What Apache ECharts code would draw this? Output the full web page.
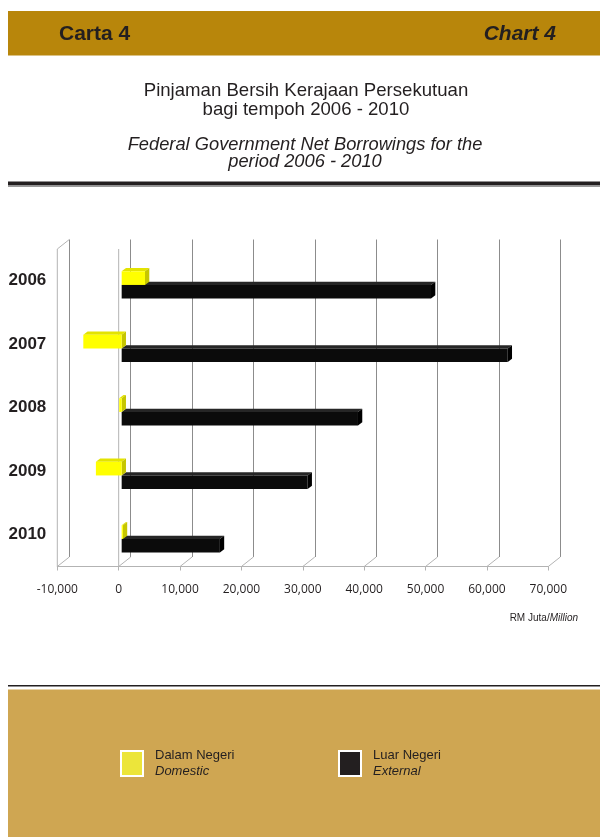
<!DOCTYPE html>
<html><head><meta charset="utf-8">
<script src="https://cdn.jsdelivr.net/npm/echarts@6/dist/echarts.min.js"></script>
<style>html,body{margin:0;padding:0;background:#fff}#c{width:600px;height:837px}</style>
</head><body><div id="c"></div>
<script>
// ---- data ----
const years = ['2006', '2007', '2008', '2009', '2010'];
const domestic = [3800, -6250, -400, -4200, 200];      // Dalam Negeri / Domestic
const external = [50400, 62900, 38500, 30300, 16000];  // Luar Negeri / External
const tickValues = [-10000, 0, 10000, 20000, 30000, 40000, 50000, 60000, 70000];
const seriesNames = ['Dalam Negeri', 'Luar Negeri'];
const seriesNamesEn = ['Domestic', 'External'];

const FONT = '"Liberation Sans", Arial, Helvetica, sans-serif';
const TXT = '#231f20';
const chart = echarts.init(document.getElementById('c'));

const DX = 12, DY = -9.5;   // back wall offset
const BX = 3;               // bar plane offset
const SX = 4.3, SY = -3.3;  // bar depth

function barRenderer(front, top, side, upper) {
  return function (params, api) {
    const cat = api.value(1);
    const v = api.value(0);
    const p0 = api.coord([0, cat]);
    const p1 = api.coord([v, cat]);
    const band = api.size([0, 1])[1];
    const b = p0[1] + band * 0.066;
    const h = band * 0.215;
    const y0 = upper ? b - h : b;
    const y1 = y0 + h;
    const xl = Math.min(p0[0], p1[0]) + BX;
    const xr = Math.max(p0[0], p1[0]) + BX;
    return {
      type: 'group', children: [
        { type: 'polygon', shape: { points: [[xl, y0], [xl + SX, y0 + SY], [xr + SX, y0 + SY], [xr, y0]] }, style: { fill: top } },
        { type: 'polygon', shape: { points: [[xr, y0], [xr + SX, y0 + SY], [xr + SX, y1 + SY], [xr, y1]] }, style: { fill: side } },
        { type: 'rect', shape: { x: xl, y: y0, width: xr - xl, height: h }, style: { fill: front } }
      ]
    };
  };
}

const option = {
  animation: false,
  graphic: [
    { type: 'rect', shape: { x: 8, y: 11, width: 592, height: 44.5 }, style: { fill: '#B8860B' }, z: -10 },
    { type: 'text', x: 59, y: 34, style: { text: 'Carta 4', fontSize: 21, fontWeight: 'bold', fontFamily: FONT, fill: TXT, align: 'left', verticalAlign: 'middle' } },
    { type: 'text', x: 556, y: 34, style: { text: 'Chart 4', fontSize: 21, fontWeight: 'bold', fontStyle: 'italic', fontFamily: FONT, fill: TXT, align: 'right', verticalAlign: 'middle' } },
    { type: 'text', x: 306, y: 91, style: { text: 'Pinjaman Bersih Kerajaan Persekutuan', fontSize: 18.6, fontFamily: FONT, fill: TXT, align: 'center', verticalAlign: 'middle' } },
    { type: 'text', x: 306, y: 110, style: { text: 'bagi tempoh 2006 - 2010', fontSize: 18.6, fontFamily: FONT, fill: TXT, align: 'center', verticalAlign: 'middle' } },
    { type: 'text', x: 305, y: 145, style: { text: 'Federal Government Net Borrowings for the', fontSize: 18.3, fontStyle: 'italic', fontFamily: FONT, fill: TXT, align: 'center', verticalAlign: 'middle' } },
    { type: 'text', x: 305, y: 162, style: { text: 'period 2006 - 2010', fontSize: 18.3, fontStyle: 'italic', fontFamily: FONT, fill: TXT, align: 'center', verticalAlign: 'middle' } },
    { type: 'rect', shape: { x: 8, y: 181.5, width: 592, height: 4 }, style: { fill: TXT } },
    { type: 'rect', shape: { x: 8, y: 185.5, width: 592, height: 1.5 }, style: { fill: '#9a9a9a' } },
    { type: 'text', x: 578, y: 618, style: { text: '{a|RM Juta/}{b|Million}', align: 'right', verticalAlign: 'middle',
        rich: { a: { fontSize: 10, fontFamily: FONT, fill: TXT, color: TXT }, b: { fontSize: 10, fontFamily: FONT, fontStyle: 'italic', fill: TXT, color: TXT } } } },
    { type: 'rect', shape: { x: 8, y: 685, width: 592, height: 1.6 }, style: { fill: TXT } },
    { type: 'rect', shape: { x: 8, y: 689.5, width: 592, height: 148 }, style: { fill: '#CFA652' }, z: -10 }
  ],
  legend: [0, 1].map(i => ({
    left: i === 0 ? 115 : 333,
    top: 744,
    orient: 'horizontal',
    selectedMode: false,
    icon: 'rect',
    itemWidth: 22,
    itemHeight: 25,
    data: [{ name: seriesNames[i], itemStyle: { color: i === 0 ? '#ECE53A' : '#231f20', borderColor: '#ffffff', borderWidth: 2 } }],
    formatter: name => '{a|' + name + '}\n{b|' + seriesNamesEn[seriesNames.indexOf(name)] + '}',
    textStyle: {
      padding: [0, 0, 0, 7],
      rich: {
        a: { fontSize: 13, fontFamily: FONT, color: TXT, lineHeight: 16 },
        b: { fontSize: 13, fontFamily: FONT, color: TXT, fontStyle: 'italic', lineHeight: 16 }
      }
    }
  })),
  grid: [
    { left: 57.3, width: 491, top: 249, height: 317.5 },
    { left: 57.3 + DX, width: 491, top: 249 + DY, height: 317.5 }
  ],
  xAxis: [
    {
      gridIndex: 0, type: 'value', min: -10000, max: 70000, interval: 10000,
      axisLine: { show: true, lineStyle: { color: '#b3b3b3', width: 1 } },
      axisTick: { show: true, length: 4, lineStyle: { color: '#b3b3b3' } },
      splitLine: { show: false },
      axisLabel: { margin: 17, fontSize: 12, fontFamily: '"Open Sans", "DejaVu Sans", sans-serif', color: TXT,
        formatter: v => v.toLocaleString('en-US') }
    },
    {
      gridIndex: 1, type: 'value', min: -10000, max: 70000, interval: 10000,
      axisLine: { show: false }, axisTick: { show: false }, axisLabel: { show: false },
      splitLine: { show: true, showMinLine: true, showMaxLine: true, lineStyle: { color: '#8c8c8c', width: 1 } }
    }
  ],
  yAxis: [
    {
      gridIndex: 0, type: 'category', data: years, inverse: true,
      axisLine: { show: false }, axisTick: { show: false }, splitLine: { show: false },
      axisLabel: { margin: 11, fontSize: 17, fontWeight: 'bold', fontFamily: FONT, color: TXT, padding: [4, 0, 0, 0] }
    },
    { gridIndex: 1, type: 'category', data: years, inverse: true, show: false }
  ],
  series: [
    {
      name: 'frame', type: 'custom', xAxisIndex: 0, yAxisIndex: 0, silent: true, z: 1,
      data: tickValues.map(v => [v, 0]),
      renderItem(params, api) {
        const cs = params.coordSys;
        const v = api.value(0);
        const x = api.coord([v, 0])[0];
        const bottom = cs.y + cs.height, topY = cs.y;
        const st = { stroke: '#b3b3b3', lineWidth: 1, fill: null };
        const ch = [{ type: 'line', shape: { x1: x, y1: bottom, x2: x + DX, y2: bottom + DY }, style: st }];
        if (v <= 0) ch.push({ type: 'line', shape: { x1: x, y1: topY, x2: x, y2: bottom }, style: st });
        if (v === tickValues[0]) ch.push({ type: 'line', shape: { x1: x, y1: topY, x2: x + DX, y2: topY + DY }, style: st });
        return { type: 'group', children: ch };
      }
    },
    {
      name: seriesNames[1], type: 'custom', xAxisIndex: 0, yAxisIndex: 0, z: 3,
      itemStyle: { color: '#231f20' },
      encode: { x: 0, y: 1 },
      data: external.map((v, i) => [v, i]),
      renderItem: barRenderer('#0b0b0b', '#262626', '#000000', false)
    },
    {
      name: seriesNames[0], type: 'custom', xAxisIndex: 0, yAxisIndex: 0, z: 4,
      itemStyle: { color: '#ECE53A' },
      encode: { x: 0, y: 1 },
      data: domestic.map((v, i) => [v, i]),
      renderItem: barRenderer('#ffff00', '#e3e300', '#c6c600', true)
    }
  ]
};
chart.setOption(option);
</script>
</body></html>
